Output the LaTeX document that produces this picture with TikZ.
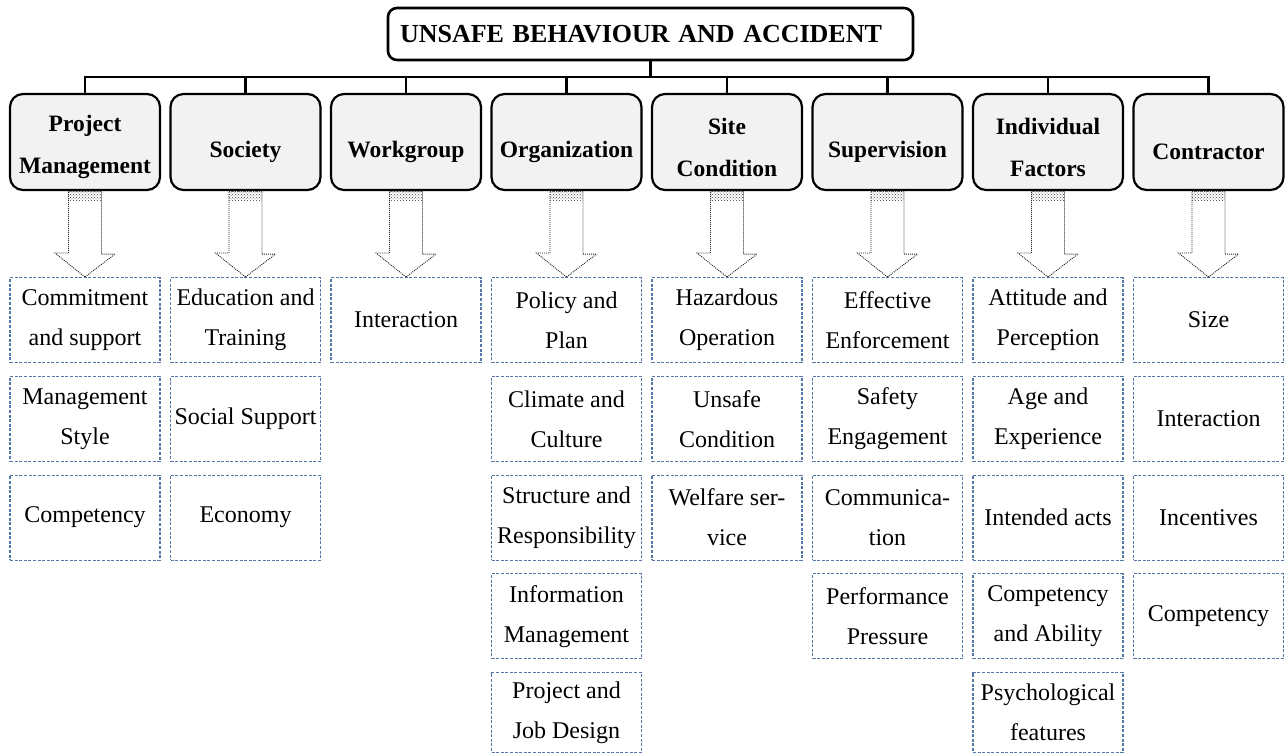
\documentclass[tikz,border=0pt]{standalone}
\usepackage{fontspec}
\setmainfont{Liberation Serif}
\usetikzlibrary{calc,patterns}
\definecolor{dashblue}{HTML}{5677AA}
\definecolor{catfill}{HTML}{F2F2F2}
\newcommand\itemcol[2]{%
  \foreach \t [count=\j] in {#2} {%
    \pgfmathsetmacro\ytop{277+(\j-1)*98.75}%
    \ifnum\j=5 \def\hh{80pt}\else\def\hh{85pt}\fi
    \node[itembox, minimum height=\hh, anchor=north] (d#1-\j) at ({85+(#1-1)*160.5},\ytop) {\t};
  }%
}
\begin{document}
\begin{tikzpicture}[x=1pt,y=-1pt,
  cat/.style={draw, line width=2.2pt, rounded corners=13pt, fill=catfill,
    minimum width=150pt, minimum height=96pt, inner sep=0pt},
  cattext/.style={inner sep=0pt, align=center,
    font=\fontsize{23.5}{42}\selectfont\bfseries},
  titlebox/.style={draw, line width=2.6pt, rounded corners=9pt, text width=501pt,
    inner xsep=12pt, inner ysep=0pt, minimum height=52pt, align=left,
    font=\fontsize{26}{30}\selectfont\bfseries},
  itembox/.style={draw=dashblue, line width=1.1pt, dash pattern=on 3pt off 1.6pt,
    minimum width=150pt, inner sep=0pt, align=center,
    font=\fontsize{24}{40}\selectfont},
  conn/.style={line width=2.4pt},
  fatarrow/.style={draw=black!85, line width=0.9pt, dash pattern=on 1pt off 1pt}
]
\useasboundingbox (0,0) rectangle (1287,754);

\node[titlebox] (top) at (650.5,34) {UNSAFE BEHAVIOUR AND ACCIDENT};

\foreach \t/\s [count=\i] in {{Project\\Management}/5,Society/10,Workgroup/10,Organization/10,
  {Site\\Condition}/5,Supervision/10,{Individual\\Factors}/5,Contractor/10} {
  \node[cat] (c\i) at ({85+(\i-1)*160.5},142) {};
  \node[cattext] (ct\i) at ([yshift=-\s pt]c\i.center) {\t};
}

\coordinate (bj) at (650.5,77);
\draw[conn] (top.south) -- (bj);
\foreach \i in {1,...,8} \draw[conn] (c\i.north) |- (bj);

\itemcol{1}{{Commitment\\and support},{Management\\Style},Competency}
\itemcol{2}{{Education and\\Training},Social Support,Economy}
\itemcol{3}{Interaction}
\itemcol{4}{{Policy and\\Plan},{Climate and\\Culture},{Structure and\\Responsibility},{Information\\Management},{Project and\\Job Design}}
\itemcol{5}{{Hazardous\\Operation},{Unsafe\\Condition},{Welfare ser-\\vice}}
\itemcol{6}{{Effective\\Enforcement},{Safety\\Engagement},{Communica-\\tion},{Performance\\Pressure}}
\itemcol{7}{{Attitude and\\Perception},{Age and\\Experience},Intended acts,{Competency\\and Ability},{Psychological\\features}}
\itemcol{8}{Size,Interaction,Incentives,Competency}

\foreach \i in {1,...,8} {
  \fill[pattern=crosshatch dots, pattern color=black!75]
    ([xshift=-16.5pt]c\i.south) rectangle ([xshift=16.5pt,yshift=-9pt]c\i.south);
  \draw[fatarrow] (d\i-1.north) -- ++(-30,-24) -- ++(13.5,0)
    |- ([xshift=-16.5pt]c\i.south) -- ([xshift=16.5pt]c\i.south)
    -- ++(0,63) -- ++(13.5,0) -- cycle;
}
\end{tikzpicture}
\end{document}
